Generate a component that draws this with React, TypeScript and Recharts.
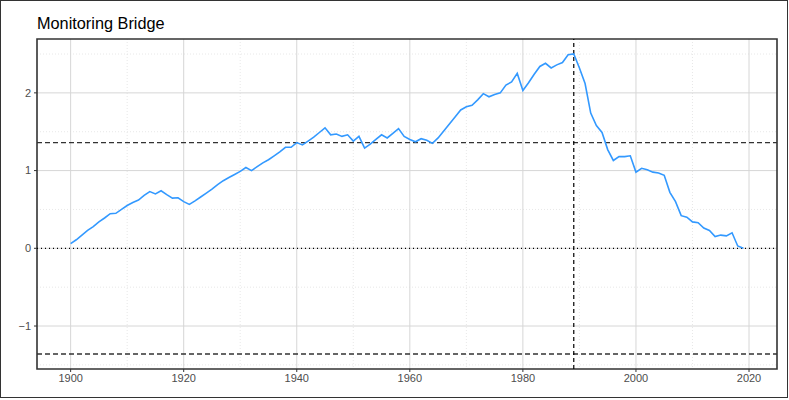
import React from "react";
import { CartesianGrid, Line, LineChart, ReferenceArea, ReferenceLine, XAxis, YAxis } from "recharts";

// yearly readings, 1900–2019
const years: number[] = Array.from({ length: 120 }, (_, i) => 1900 + i);
const readings: number[] = [
  0.06, 0.11, 0.17, 0.23, 0.28, 0.34, 0.39, 0.445, 0.45, 0.5,
  0.55, 0.59, 0.62, 0.68, 0.73, 0.7, 0.74, 0.69, 0.645, 0.65,
  0.6, 0.565, 0.61, 0.66, 0.71, 0.76, 0.82, 0.87, 0.91, 0.95,
  0.99, 1.04, 1.0, 1.05, 1.1, 1.14, 1.19, 1.24, 1.3, 1.3,
  1.36, 1.33, 1.38, 1.43, 1.49, 1.55, 1.46, 1.47, 1.44, 1.46,
  1.38, 1.44, 1.29, 1.34, 1.4, 1.46, 1.42, 1.48, 1.54, 1.44,
  1.4, 1.37, 1.41, 1.39, 1.35, 1.42, 1.51, 1.6, 1.69, 1.78,
  1.82, 1.84, 1.91, 1.99, 1.95, 1.98, 2.0, 2.1, 2.14, 2.25,
  2.03, 2.13, 2.24, 2.34, 2.38, 2.32, 2.36, 2.39, 2.49, 2.5,
  2.32, 2.12, 1.74, 1.58, 1.49, 1.27, 1.13, 1.18, 1.18, 1.19,
  0.98, 1.03, 1.01, 0.98, 0.97, 0.94, 0.72, 0.6, 0.42, 0.4,
  0.34, 0.33, 0.26, 0.23, 0.15, 0.17, 0.16, 0.2, 0.03, 0.0,
];

const xTicks = [1900, 1920, 1940, 1960, 1980, 2000, 2020];
const xMinor = [1910, 1930, 1950, 1970, 1990, 2010];
const yTicks = [-1, 0, 1, 2];
const yMinor = [-1.5, -0.5, 0.5, 1.5, 2.5];

const limit = 1.36;
const breakYear = 1989;

const xDomain: [number, number] = [1894.05, 2024.95];
const yDomain: [number, number] = [-1.553, 2.693];

const data = years.map((year, i) => ({ year, value: readings[i] }));

const tickStyle = { fill: "#4d4d4d", fontSize: 11, fontFamily: "'Liberation Sans', Arial, sans-serif" };

export default function App() {
  return (
    <div style={{ position: "fixed", left: 0, top: 0, width: 789, height: 400, background: "#fff" }}>
      <div
        style={{
          position: "absolute",
          left: 0,
          top: 0,
          width: 788,
          height: 398,
          boxSizing: "border-box",
          border: "1.5px solid #333",
        }}
      />
      <div
        style={{
          position: "absolute",
          left: 37,
          top: 15,
          fontSize: 16.3,
          lineHeight: 1,
          fontFamily: "'Liberation Sans', Arial, sans-serif",
          color: "#000",
        }}
      >
        Monitoring Bridge
      </div>
      <LineChart
        width={789}
        height={400}
        data={data}
        margin={{ top: 39, right: 12, bottom: 0, left: 7 }}
        style={{ position: "absolute", left: 0, top: 0 }}
      >
        <CartesianGrid
          horizontalValues={yMinor}
          verticalValues={xMinor}
          stroke="#e2e2e2"
          strokeDasharray="1 2"
          strokeWidth={0.8}
        />
        <CartesianGrid horizontalValues={yTicks} verticalValues={xTicks} stroke="#d6d6d6" strokeWidth={1} />
        <XAxis
          dataKey="year"
          type="number"
          domain={xDomain}
          ticks={xTicks}
          allowDataOverflow
          height={31}
          tickSize={3}
          tickMargin={2}
          axisLine={false}
          tickLine={{ stroke: "#333" }}
          tick={tickStyle}
        />
        <YAxis
          type="number"
          domain={yDomain}
          ticks={yTicks}
          allowDataOverflow
          width={30}
          tickSize={3}
          tickMargin={3}
          axisLine={false}
          tickLine={{ stroke: "#333" }}
          tick={tickStyle}
          tickFormatter={(v: number) => String(v).replace("-", "\u2212")}
        />
        <ReferenceLine y={0} stroke="#000" strokeDasharray="1 3" strokeWidth={1.2} />
        <ReferenceLine y={limit} stroke="#333" strokeDasharray="5 3" strokeWidth={1.4} />
        <ReferenceLine y={-limit} stroke="#333" strokeDasharray="5 3" strokeWidth={1.4} />
        <ReferenceLine x={breakYear} stroke="#000" strokeDasharray="4 3" strokeWidth={1.2} />
        <Line
          type="linear"
          dataKey="value"
          stroke="#3399ff"
          strokeWidth={1.6}
          dot={false}
          isAnimationActive={false}
        />
        <ReferenceArea
          x1={xDomain[0]}
          x2={xDomain[1]}
          y1={yDomain[0]}
          y2={yDomain[1]}
          fill="none"
          fillOpacity={0}
          stroke="#333"
          strokeWidth={1.6}
        />
      </LineChart>
    </div>
  );
}
